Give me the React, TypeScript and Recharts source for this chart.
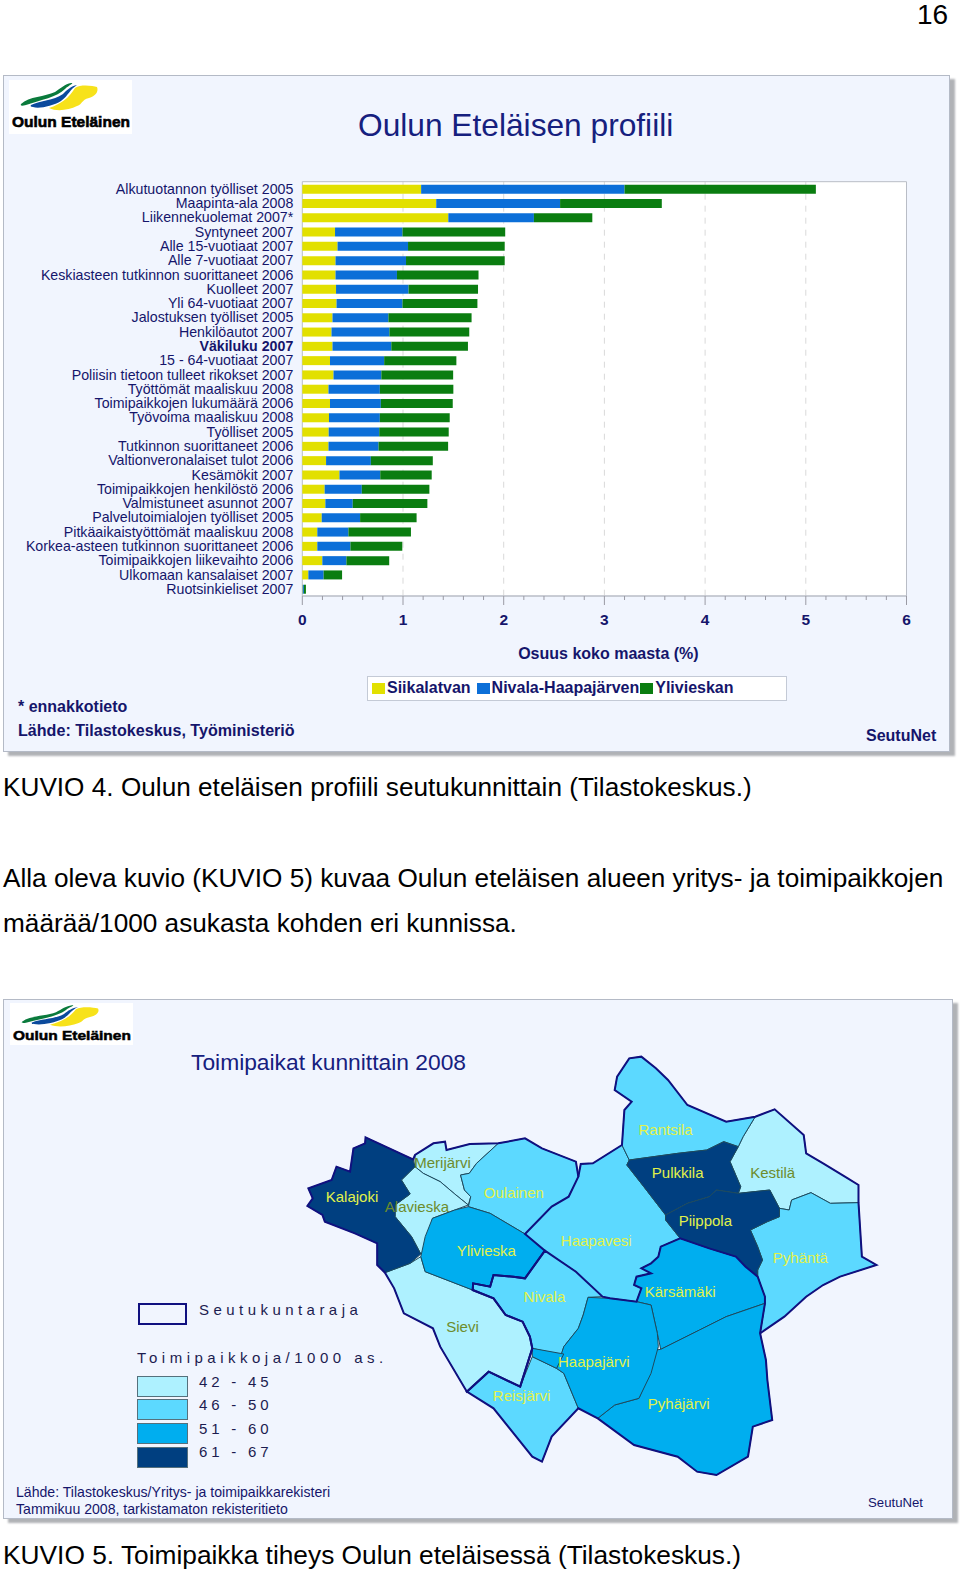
import React from 'react';
import { BarChart, Bar, XAxis, YAxis, CartesianGrid, ReferenceArea, Legend, ScatterChart, Scatter } from 'recharts';

const categories = [
  'Alkutuotannon työlliset 2005', 'Maapinta-ala 2008', 'Liikennekuolemat 2007*', 'Syntyneet 2007',
  'Alle 15-vuotiaat 2007', 'Alle 7-vuotiaat 2007', 'Keskiasteen tutkinnon suorittaneet 2006', 'Kuolleet 2007',
  'Yli 64-vuotiaat 2007', 'Jalostuksen työlliset 2005', 'Henkilöautot 2007', 'Väkiluku 2007',
  '15 - 64-vuotiaat 2007', 'Poliisin tietoon tulleet rikokset 2007', 'Työttömät maaliskuu 2008',
  'Toimipaikkojen lukumäärä 2006', 'Työvoima maaliskuu 2008', 'Työlliset 2005', 'Tutkinnon suorittaneet 2006',
  'Valtionveronalaiset tulot 2006', 'Kesämökit 2007', 'Toimipaikkojen henkilöstö 2006', 'Valmistuneet asunnot 2007',
  'Palvelutoimialojen työlliset 2005', 'Pitkäaikaistyöttömät maaliskuu 2008', 'Korkea-asteen tutkinnon suorittaneet 2006',
  'Toimipaikkojen liikevaihto 2006', 'Ulkomaan kansalaiset 2007', 'Ruotsinkieliset 2007',
];
const siikalatvan = [1.18, 1.33, 1.45, 0.325, 0.35, 0.33, 0.33, 0.335, 0.34, 0.3, 0.29, 0.3, 0.275, 0.31, 0.26, 0.275, 0.265, 0.262, 0.26, 0.236, 0.369, 0.222, 0.229, 0.193, 0.149, 0.149, 0.199, 0.06, 0.004];
const nivalaHaapajarven = [2.02, 1.23, 0.85, 0.67, 0.7, 0.7, 0.61, 0.72, 0.655, 0.555, 0.575, 0.584, 0.538, 0.475, 0.51, 0.505, 0.505, 0.502, 0.497, 0.445, 0.405, 0.369, 0.272, 0.381, 0.309, 0.329, 0.239, 0.152, 0.012];
const ylivieskan = [1.9, 1.01, 0.58, 1.02, 0.96, 0.98, 0.81, 0.69, 0.744, 0.826, 0.793, 0.761, 0.717, 0.713, 0.73, 0.714, 0.694, 0.69, 0.691, 0.615, 0.511, 0.671, 0.741, 0.561, 0.621, 0.515, 0.425, 0.183, 0.02];
const xTicks = [0, 0.2, 0.4, 0.6, 0.8, 1, 1.2, 1.4, 1.6, 1.8, 2, 2.2, 2.4, 2.6, 2.8, 3, 3.2, 3.4, 3.6, 3.8, 4, 4.2, 4.4, 4.6, 4.8, 5, 5.2, 5.4, 5.6, 5.8, 6];
const seriesNames = ['Siikalatvan', 'Nivala-Haapajärven', 'Ylivieskan'];

// municipality outlines, in units of the traced map grid
const kalajoki = [[486,292],[584,358],[588,380],[560,420],[578,462],[547,495],[547,530],[581,590],[600,642],[578,670],[526,698],[510,675],[510,610],[464,580],[402,545],[397,525],[366,498],[377,475],[368,445],[416,420],[426,380],[454,395],[461,325],[485,310]];
const merijarvi = [[588,345],[626,310],[650,305],[653,330],[701,312],[760,310],[715,370],[700,400],[682,405],[690,450],[703,470],[698,495],[670,462],[640,425],[605,400],[588,380]];
const alavieska = [[588,380],[605,400],[640,425],[670,462],[698,495],[670,510],[624,535],[612,630],[600,642],[581,590],[547,530],[547,495],[578,462],[560,420]];
const oulainen = [[760,310],[815,295],[850,325],[920,365],[925,410],[905,470],[870,500],[815,582],[743,520],[698,500],[703,470],[690,450],[682,405],[700,400],[715,370]];
const ylivieska = [[698,500],[743,520],[815,582],[856,632],[815,715],[791,710],[750,705],[743,740],[708,730],[707,750],[609,695],[600,650],[609,590],[624,535],[670,510]];
const haapavesi = [[930,372],[955,370],[1015,315],[1030,360],[1025,375],[1060,440],[1105,525],[1105,540],[1135,595],[1095,620],[1090,650],[1075,670],[1055,685],[1075,700],[1045,710],[1040,735],[1055,745],[1045,785],[990,775],[975,770],[920,695],[856,632],[815,582],[870,500],[905,470],[925,410]];
const rantsila = [[1030,55],[1055,50],[1085,85],[1110,120],[1150,195],[1230,245],[1290,230],[1265,290],[1255,320],[1225,305],[1190,330],[1130,340],[1030,360],[1015,315],[1020,210],[1035,185],[1000,150],[1005,110]];
const pulkkila = [[1030,360],[1130,340],[1190,330],[1225,305],[1255,320],[1238,365],[1260,440],[1255,460],[1210,450],[1195,470],[1150,490],[1105,525],[1060,440],[1025,375]];
const kestila = [[1290,230],[1330,208],[1390,285],[1395,340],[1430,370],[1475,410],[1503,435],[1503,488],[1445,490],[1405,458],[1365,480],[1360,510],[1340,505],[1320,450],[1255,460],[1260,440],[1238,365],[1255,320],[1265,290]];
const piippola = [[1105,525],[1150,490],[1195,470],[1210,450],[1255,460],[1320,450],[1340,505],[1340,530],[1315,545],[1280,570],[1295,620],[1305,660],[1295,690],[1295,710],[1270,680],[1250,650],[1195,625],[1135,595],[1105,540]];
const pyhanta = [[1360,510],[1365,480],[1405,458],[1445,490],[1503,488],[1510,650],[1540,675],[1465,710],[1430,735],[1395,770],[1350,830],[1300,880],[1310,790],[1305,750],[1295,710],[1295,690],[1305,660],[1295,620],[1280,570],[1315,545],[1340,530],[1340,505]];
const karsamaki = [[1135,595],[1195,625],[1250,650],[1270,680],[1295,710],[1310,770],[1310,790],[1230,830],[1175,870],[1095,928],[1088,880],[1075,795],[1045,785],[1055,745],[1040,735],[1045,710],[1075,700],[1055,685],[1075,670],[1090,650],[1095,620]];
const pyhajarvi = [[1310,790],[1300,880],[1312,960],[1315,1020],[1325,1140],[1285,1160],[1275,1250],[1210,1305],[1170,1295],[1130,1250],[1040,1215],[965,1135],[1000,1095],[1050,1075],[1072,1000],[1085,930],[1095,928],[1175,870],[1230,830]];
const haapajarvi = [[945,772],[990,775],[1045,785],[1075,795],[1088,880],[1090,920],[1075,1000],[1050,1075],[1000,1095],[965,1135],[925,1105],[895,1000],[880,985],[895,920],[925,865],[935,825]];
const haapajarviStrip = [[830,925],[895,942],[880,985],[830,950]];
const nivala = [[856,632],[920,695],[975,770],[945,772],[935,825],[925,865],[895,920],[890,945],[830,925],[825,890],[810,845],[775,825],[750,775],[707,750],[708,730],[743,740],[750,705],[791,710],[815,715]];
const sievi = [[526,698],[578,670],[600,650],[609,695],[707,750],[750,775],[775,825],[810,845],[825,890],[830,925],[805,1040],[740,995],[695,1055],[640,920],[625,865],[565,820],[545,745]];
const reisjarvi = [[830,950],[880,985],[895,1000],[925,1105],[870,1190],[850,1265],[830,1250],[750,1105],[695,1055],[740,995],[805,1040]];

const lightAreas = [merijarvi, alavieska, kestila, sievi];
const midAreas = [oulainen, haapavesi, rantsila, pyhanta, nivala, reisjarvi];
const strongAreas = [ylivieska, karsamaki, pyhajarvi, haapajarvi, haapajarviStrip];
const darkAreas = [kalajoki, pulkkila, piippola];

const ylivieskanBorder = [[486,292],[584,358],[588,345],[626,310],[650,305],[653,330],[701,312],[760,310],[815,295],[850,325],[920,365],[925,410],[905,470],[870,500],[815,582],[856,632],[815,715],[791,710],[750,705],[743,740],[708,730],[707,750],[750,775],[775,825],[810,845],[825,890],[830,925],[805,1040],[740,995],[695,1055],[640,920],[625,865],[565,820],[545,745],[526,698],[510,675],[510,610],[464,580],[402,545],[397,525],[366,498],[377,475],[368,445],[416,420],[426,380],[454,395],[461,325],[485,310]];
const nivalanBorder = [[856,632],[920,695],[975,770],[990,775],[1045,785],[1055,745],[1040,735],[1045,710],[1075,700],[1055,685],[1075,670],[1090,650],[1095,620],[1135,595],[1195,625],[1250,650],[1270,680],[1295,710],[1310,770],[1310,790],[1300,880],[1312,960],[1315,1020],[1325,1140],[1285,1160],[1275,1250],[1210,1305],[1170,1295],[1130,1250],[1040,1215],[965,1135],[925,1105],[870,1190],[850,1265],[830,1250],[750,1105],[695,1055],[740,995],[805,1040],[830,925],[825,890],[810,845],[775,825],[750,775],[707,750],[708,730],[743,740],[750,705],[791,710],[815,715]];
const siikalatvanBorder = [[925,410],[930,372],[955,370],[1015,315],[1020,210],[1035,185],[1000,150],[1005,110],[1030,55],[1055,50],[1085,85],[1110,120],[1150,195],[1230,245],[1290,230],[1330,208],[1390,285],[1395,340],[1430,370],[1475,410],[1503,435],[1503,488],[1510,650],[1540,675],[1465,710],[1430,735],[1395,770],[1350,830],[1300,880]];

const placeNames = ['Kalajoki', 'Merijärvi', 'Alavieska', 'Oulainen', 'Ylivieska', 'Rantsila', 'Pulkkila', 'Kestilä', 'Piippola', 'Haapavesi', 'Pyhäntä', 'Kärsämäki', 'Nivala', 'Sievi', 'Haapajärvi', 'Reisjärvi', 'Pyhäjärvi'];
const placeX = [458, 645, 592, 792, 735, 1105, 1130, 1326, 1187, 962, 1383, 1135, 855, 686, 957, 808, 1132];
const placeY = [470, 370, 500, 460, 633, 270, 400, 400, 542, 602, 655, 757, 772, 862, 965, 1067, 1092];
const oliveNames = ['Merijärvi', 'Alavieska', 'Kestilä', 'Sievi'];

const legendRanges = ['42 - 45', '46 - 50', '51 - 60', '61 - 67'];

const FONT = '"Liberation Sans", Arial, sans-serif';
const NAVY = '#15156b';
const YELLOW = '#e2e000';
const BLUE = '#0c6fd8';
const GREEN = '#0a7d10';
const MAP_COLORS = ['#aef1ff', '#5cd9ff', '#00aeef', '#003f80'];

const chartData = categories.map((name, i) => ({
  name,
  siikalatvan: siikalatvan[i],
  nivala: nivalaHaapajarven[i],
  ylivieskan: ylivieskan[i],
}));

const toPoints = (outline: number[][]) => outline.map(([x, y]) => ({ x, y }));
const placeData = placeNames.map((name, i) => ({ name, x: placeX[i], y: placeY[i] }));

function T({ x, y, size, bold, color, spacing, children }: any) {
  return (
    <div
      style={{
        position: 'absolute',
        left: x,
        top: y,
        transform: 'translateY(-50%)',
        fontFamily: FONT,
        fontSize: size,
        fontWeight: bold ? 700 : 400,
        color: color || '#000',
        letterSpacing: spacing,
        lineHeight: 1.2,
        whiteSpace: 'pre',
      }}
    >
      {children}
    </div>
  );
}

function Panel({ top, height, width }: any) {
  return (
    <div
      style={{
        position: 'absolute',
        left: 3,
        top,
        width,
        height,
        boxSizing: 'border-box',
        background: '#f1f5fe',
        border: '1px solid #b4bac6',
        boxShadow: '5px 4px 2px #b0b2b6',
      }}
    />
  );
}

function Logo({ x, y, height }: any) {
  return (
    <svg style={{ position: 'absolute', left: x, top: y }} width={123} height={height} viewBox="0 0 123 54" preserveAspectRatio="none">
      <rect width={123} height={54} fill="#fff" />
      <path d="M12 24 C20 16 36 17 46 12 C52 8 56 4 62 3 C66 3 60 5 56 9 C48 17 32 20 17 25 C13 26 11 26 12 24 Z" fill="#0a7a3c" />
      <path d="M22 25 C32 20 44 21 54 14 C58 10 62 6 68 5 C60 10 60 15 52 21 C44 26 30 29 24 27 C22 27 21 26 22 25 Z" fill="#0b4a9c" />
      <path d="M40 28 C52 24 60 18 66 8 C72 4 84 6 88 7 C90 12 86 16 80 18 C72 20 74 24 68 26 C60 30 48 32 40 28 Z" fill="#f7e21a" />
      <text x={3} y={47} fontFamily={FONT} fontSize={15.5} fontWeight={700} stroke="#000" strokeWidth={0.6}>Oulun Eteläinen</text>
    </svg>
  );
}

function CategoryTick({ x, y, payload }: any) {
  const isBold = payload.value === 'Väkiluku 2007';
  return (
    <text x={x} y={y} dy={5} textAnchor="end" fontFamily={FONT} fontSize={14.2} fontWeight={isBold ? 700 : 400} fill={NAVY}>
      {payload.value}
    </text>
  );
}

function ValueTick({ x, y, payload }: any) {
  const major = Number.isInteger(payload.value);
  return (
    <g>
      <line x1={x} x2={x} y1={y} y2={y + (major ? 9 : 4)} stroke="#9a9aa4" />
      {major && (
        <text x={x} y={y + 29} textAnchor="middle" fontFamily={FONT} fontSize={15.5} fontWeight={700} fill={NAVY}>
          {payload.value}
        </text>
      )}
    </g>
  );
}

function BarLegend() {
  const colors = [YELLOW, BLUE, GREEN];
  return (
    <div
      style={{
        width: 420,
        height: 24.7,
        boxSizing: 'border-box',
        background: '#fff',
        border: '1px solid #c4cad6',
        display: 'flex',
        alignItems: 'center',
        paddingLeft: 4,
        fontFamily: FONT,
        fontSize: 16,
        fontWeight: 700,
        color: NAVY,
      }}
    >
      {seriesNames.map((name, i) => (
        <span key={name} style={{ display: 'flex', alignItems: 'center', marginRight: i === 0 ? 6 : 1 }}>
          <span style={{ width: 13, height: 11, background: colors[i], marginRight: 2 }} />
          {name}
        </span>
      ))}
    </div>
  );
}

const NoDot = () => null;

function PlaceLabel({ cx, cy, payload }: any) {
  return (
    <text x={cx} y={cy} dy={5} textAnchor="middle" fontFamily={FONT} fontSize={15} fill={oliveNames.includes(payload.name) ? '#6d8c2c' : '#e2f24a'}>
      {payload.name}
    </text>
  );
}

function AreaGroup({ outlines, fill }: any) {
  return outlines.map((outline: number[][], i: number) => (
    <Scatter
      key={fill + i}
      data={toPoints(outline)}
      shape={NoDot}
      line={{ fill, stroke: '#1d4a5e', strokeWidth: 1 }}
      lineJointType="linearClosed"
      isAnimationActive={false}
    />
  ));
}

export default function App() {
  return (
    <div style={{ position: 'absolute', left: 0, top: 0, width: 960, height: 1571, background: '#fff', overflow: 'hidden' }}>
      <T x={917} y={15} size={28}>16</T>

      <Panel top={75} width={947} height={677} />
      <Logo x={9} y={80} height={54} />
      <T x={358} y={125} size={31.7} color="#16207e">Oulun Eteläisen profiili</T>

      <div style={{ position: 'absolute', left: 0, top: 170 }}>
        <BarChart width={960} height={540} data={chartData} layout="vertical" margin={{ top: 11.7, right: 53.5, left: 0, bottom: 0 }}>
          <CartesianGrid horizontal={false} verticalValues={[1, 2, 3, 4, 5]} fill="#fff" stroke="#d9d9d9" strokeDasharray="6 6" />
          <ReferenceArea x1={0} x2={6} fill="none" stroke="#b9bdc6" />
          <XAxis
            type="number"
            domain={[0, 6]}
            ticks={xTicks}
            interval={0}
            height={114}
            tickLine={false}
            tickSize={0}
            tickMargin={0}
            axisLine={{ stroke: '#b9bdc6' }}
            tick={ValueTick}
            label={{ value: 'Osuus koko maasta (%)', position: 'insideTop', offset: 52, dx: 4, fontFamily: FONT, fontSize: 16, fontWeight: 700, fill: NAVY }}
          />
          <YAxis
            type="category"
            dataKey="name"
            width={302.3}
            interval={0}
            axisLine={false}
            tickLine={false}
            tickSize={0}
            tickMargin={9}
            tick={CategoryTick}
          />
          <Legend
            layout="horizontal"
            verticalAlign="middle"
            align="center"
            content={BarLegend}
            wrapperStyle={{ position: 'absolute', left: 367, top: 506, width: 420, height: 24.7 }}
          />
          <Bar dataKey="siikalatvan" stackId="a" fill={YELLOW} barSize={9} isAnimationActive={false} />
          <Bar dataKey="nivala" stackId="a" fill={BLUE} barSize={9} isAnimationActive={false} />
          <Bar dataKey="ylivieskan" stackId="a" fill={GREEN} barSize={9} isAnimationActive={false} />
        </BarChart>
      </div>

      <T x={18} y={707} size={16} bold color={NAVY}>* ennakkotieto</T>
      <T x={18} y={731} size={16.1} bold color={NAVY}>Lähde: Tilastokeskus, Työministeriö</T>
      <T x={866} y={736} size={16} bold color={NAVY}>SeutuNet</T>

      <T x={3} y={788} size={26.2}>KUVIO 4. Oulun eteläisen profiili seutukunnittain (Tilastokeskus.)</T>
      <T x={3} y={879} size={26.2}>Alla oleva kuvio (KUVIO 5) kuvaa Oulun eteläisen alueen yritys- ja toimipaikkojen</T>
      <T x={3} y={924} size={26.2}>määrää/1000 asukasta kohden eri kunnissa.</T>

      <Panel top={999} width={950} height={520} />
      <Logo x={10} y={1003} height={42} />
      <T x={191} y={1063} size={22.8} color="#16207e">Toimipaikat kunnittain 2008</T>

      <div style={{ position: 'absolute', left: 130, top: 1040 }}>
        <ScatterChart width={760} height={460} margin={{ top: 0, right: 0, left: 0, bottom: 0 }}>
          <XAxis type="number" dataKey="x" domain={[0, 1568]} hide />
          <YAxis type="number" dataKey="y" domain={[0, 1380]} reversed hide />
          {AreaGroup({ outlines: lightAreas, fill: MAP_COLORS[0] })}
          {AreaGroup({ outlines: midAreas, fill: MAP_COLORS[1] })}
          {AreaGroup({ outlines: strongAreas, fill: MAP_COLORS[2] })}
          {AreaGroup({ outlines: darkAreas, fill: MAP_COLORS[3] })}
          {[ylivieskanBorder, nivalanBorder, siikalatvanBorder].map((outline, i) => (
            <Scatter
              key={i}
              data={toPoints(outline)}
              shape={NoDot}
              line={{ fill: 'none', stroke: '#10107f', strokeWidth: 2 }}
              lineJointType={i === 2 ? 'linear' : 'linearClosed'}
              isAnimationActive={false}
            />
          ))}
          <Scatter data={placeData} shape={PlaceLabel} isAnimationActive={false} />
        </ScatterChart>
      </div>

      <div style={{ position: 'absolute', left: 138.3, top: 1302.7, width: 48.4, height: 22.3, boxSizing: 'border-box', border: '2.5px solid #10107f' }} />
      <T x={199} y={1310} size={15} spacing={4.45} color="#1c1c50">Seutukuntaraja</T>
      <T x={137} y={1358} size={15} spacing={4.5} color="#1c1c50">Toimipaikkoja/1000 as.</T>
      {legendRanges.map((label, i) => (
        <React.Fragment key={label}>
          <div style={{ position: 'absolute', left: 137.3, top: 1375.7 + i * 23.6, width: 50.4, height: 21, boxSizing: 'border-box', background: MAP_COLORS[i], border: '1px solid #55707c' }} />
          <T x={199} y={1381.7 + i * 23.5} size={15} spacing={3.8} color="#1c1c50">{label}</T>
        </React.Fragment>
      ))}

      <T x={16} y={1492} size={14.1} color={NAVY}>Lähde: Tilastokeskus/Yritys- ja toimipaikkarekisteri</T>
      <T x={16} y={1509} size={14.1} color={NAVY}>Tammikuu 2008, tarkistamaton rekisteritieto</T>
      <T x={868} y={1503} size={13.2} color={NAVY}>SeutuNet</T>

      <T x={3} y={1556} size={26.3}>KUVIO 5. Toimipaikka tiheys Oulun eteläisessä (Tilastokeskus.)</T>
    </div>
  );
}
